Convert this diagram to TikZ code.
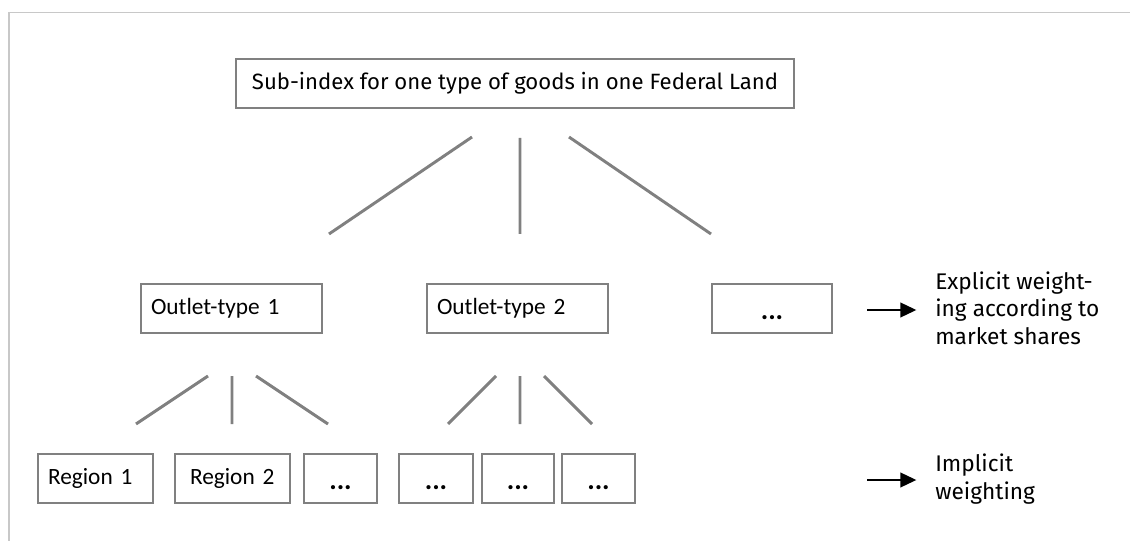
\documentclass[tikz,border=0pt]{standalone}
\usepackage{fontspec}
\setmainfont{Fira Sans}
\newfontfamily\boxfont{Carlito}
\usetikzlibrary{positioning,arrows.meta}
\definecolor{linegray}{RGB}{128,128,128}
\definecolor{framegray}{RGB}{200,200,200}
\tikzset{
	x=0.75pt, y=-0.75pt,
	box/.style={draw=linegray, line width=1.3pt, inner sep=0pt, minimum height=36.75pt},
	outlet/.style={box, inner xsep=7.5pt, text width=120.75pt, align=left, font=\boxfont\fontsize{17.5}{21}\selectfont},
	region/.style={box, text width=#1, align=left, font=\boxfont\fontsize{17.5}{21}\selectfont},
	dots/.style={box, minimum width=#1, font=\boxfont\bfseries\fontsize{21}{24}\selectfont},
	link/.style={draw=linegray, line width=2.2pt},
	note/.style={anchor=west, inner sep=0pt, align=left, font=\fontsize{17}{20.5}\selectfont},
	pointer/.style={line width=1.5pt, -{Triangle[length=12pt,width=11pt]}, shorten >=14pt},
}
\newcommand{\dotsmark}{\smash{\raisebox{-8pt}{...}}}

\begin{document}
\begin{tikzpicture}
		\useasboundingbox (0,0) rectangle (1130,541);
		\draw[framegray, line width=0.9pt] (9,541) -- (9,12.5) -- (1130,12.5);

		\node[box, minimum width=418.5pt, font=\fontsize{16.6}{20}\selectfont] (top) at (515,83.5) {Sub-index for one type of goods in one Federal Land};

		\node[outlet] (o1) at (231.5,308.5) {Outlet-type 1};
		\node[outlet] (o2) at (517.5,308.5) {Outlet-type 2};
		\node[dots=90pt] (o3) at (772,308.5) {\dotsmark};

		\node[region=71.25pt, inner xsep=7.5pt] (r1) at (95.5,478.5) {Region 1};
		\node[region=63.75pt, inner xsep=11.25pt] (r2) at (232.5,478.5) {Region 2};
		\node[dots=54.75pt] (r3) at (340.5,478.5) {\dotsmark};
		\node[dots=55.5pt] (r4) at (436,478.5) {\dotsmark};
		\node[dots=54pt] (r5) at (518,478.5) {\dotsmark};
		\node[dots=54.75pt] (r6) at (598.5,478.5) {\dotsmark};

		\node[note] (expl) at (935,308) {Explicit weight-\\ing according to\\market shares};
		\node[note] (impl) at (935,479) {Implicit\\weighting};

		\coordinate (t1) at (472,137);  \coordinate (b1) at (329,234);
		\coordinate (t2) at (520,138);  \coordinate (b2) at (520,234);
		\coordinate (t3) at (569,137);  \coordinate (b3) at (711,234);
		\coordinate (t4) at (208,376);  \coordinate (b4) at (136,424);
		\coordinate (t5) at (232,376);  \coordinate (b5) at (232,424);
		\coordinate (t6) at (256,376);  \coordinate (b6) at (328,424);
		\coordinate (t7) at (496,376);  \coordinate (b7) at (448,424);
		\coordinate (t8) at (520,376);  \coordinate (b8) at (520,424);
		\coordinate (t9) at (544,376);  \coordinate (b9) at (592,424);
		\coordinate (a1) at (867,310);
		\coordinate (a2) at (867,480);

		\draw[link] (t1) -- (b1) (t2) -- (b2) (t3) -- (b3);
		\draw[link] (t4) -- (b4) (t5) -- (b5) (t6) -- (b6);
		\draw[link] (t7) -- (b7) (t8) -- (b8) (t9) -- (b9);

		\draw[pointer] (a1) -- (expl.west |- a1);
		\draw[pointer] (a2) -- (impl.west |- a2);
	\end{tikzpicture}
\end{document}
